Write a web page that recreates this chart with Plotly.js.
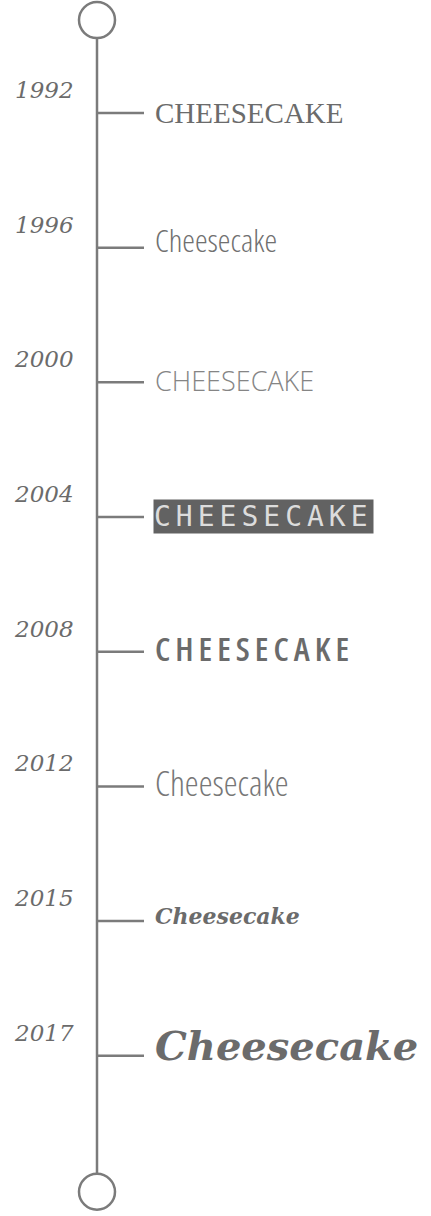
<!DOCTYPE html>
<html>
<head>
<meta charset="utf-8">
<script src="https://cdn.plot.ly/plotly-3.0.1.min.js"></script>
<style>
  html, body { margin: 0; padding: 0; background: #ffffff; }
  #chart { width: 431px; height: 1216px; }
</style>
</head>
<body>
<div id="chart"></div>
<script>
// ---- data ----
const years = ['1992', '1996', '2000', '2004', '2008', '2012', '2015', '2017'];
const logoTexts = ['CHEESECAKE', 'Cheesecake', 'CHEESECAKE', 'CHEESECAKE', 'CHEESECAKE', 'Cheesecake', 'Cheesecake', 'Cheesecake'];
const steps = [0, 1, 2, 3, 4, 5, 6, 7];          // position of each year along the timeline
const timelineStart = -0.69;                       // top end cap (in step units)
const timelineEnd = 8.01;                          // bottom end cap (in step units)

// ---- styles ----
const GRAY = '#6b6b6b';
const LINE = '#7b7b7b';
const spineX = 97, tickEndX = 144, yearX = 44, logoX = 153;

const logoStyles = [
  { font: { family: 'Liberation Serif, serif', size: 29, color: GRAY }, yshift: 0 },
  { font: { family: 'Open Sans, sans-serif', size: 32, color: '#707070', weight: 300 }, yshift: 8, css: 'font-stretch:75%' },
  { font: { family: 'Open Sans, sans-serif', size: 27, color: '#858585', weight: 300 }, yshift: 2 },
  { font: { family: 'DejaVu Sans Mono, monospace', size: 28, color: '#dcdcdc', weight: 400 }, yshift: 1, bg: '#626262', css: 'letter-spacing:5px' },
  { font: { family: 'Open Sans, sans-serif', size: 33, color: GRAY, weight: 650 }, yshift: 3, css: 'font-stretch:75%;letter-spacing:5px' },
  { font: { family: 'Open Sans, sans-serif', size: 35, color: '#777777', weight: 300 }, yshift: 4, css: 'font-stretch:75%' },
  { font: { family: 'DejaVu Serif, serif', size: 22, color: GRAY, weight: 700, style: 'italic' }, yshift: 5 },
  { font: { family: 'DejaVu Serif, serif', size: 40, color: GRAY, weight: 700, style: 'italic' }, yshift: 10 }
];

// ---- traces ----
const tickX = [], tickY = [];
steps.forEach(s => { tickX.push(spineX, tickEndX, null); tickY.push(s, s, null); });

const traces = [
  { type: 'scatter', mode: 'lines', x: [spineX, spineX], y: [timelineStart, timelineEnd],
    line: { color: LINE, width: 2.5 }, hoverinfo: 'skip', showlegend: false },
  { type: 'scatter', mode: 'lines', x: tickX, y: tickY,
    line: { color: LINE, width: 2.5 }, hoverinfo: 'skip', showlegend: false },
  { type: 'scatter', mode: 'markers', x: [spineX, spineX], y: [timelineStart, timelineEnd],
    marker: { symbol: 'circle', size: 36, color: '#ffffff', line: { color: LINE, width: 2.5 } },
    hoverinfo: 'skip', showlegend: false }
];

// ---- annotations ----
const annotations = [];
years.forEach((yr, i) => {
  annotations.push({
    x: yearX, y: steps[i], xref: 'x', yref: 'y', xanchor: 'center', yanchor: 'middle',
    yshift: 23, showarrow: false, text: yr,
    font: { family: 'DejaVu Serif, serif', size: 23, color: GRAY, style: 'italic' }
  });
  const st = logoStyles[i];
  const txt = st.css ? '<span style="' + st.css + '">' + logoTexts[i] + '</span>' : logoTexts[i];
  const a = {
    x: logoX, y: steps[i], xref: 'x', yref: 'y', xanchor: 'left', yanchor: 'middle',
    yshift: st.yshift, showarrow: false, text: txt, font: st.font
  };
  if (st.bg) { a.bgcolor = st.bg; a.borderpad = 0; }
  annotations.push(a);
});

const layout = {
  width: 431, height: 1216,
  margin: { l: 0, r: 0, t: 0, b: 0 },
  paper_bgcolor: '#ffffff', plot_bgcolor: '#ffffff',
  xaxis: { range: [0, 431], visible: false, fixedrange: true },
  yaxis: { range: [8.19, -0.839], visible: false, fixedrange: true },
  showlegend: false,
  annotations: annotations
};

Plotly.newPlot('chart', traces, layout, { staticPlot: true, displayModeBar: false });
</script>
</body>
</html>
